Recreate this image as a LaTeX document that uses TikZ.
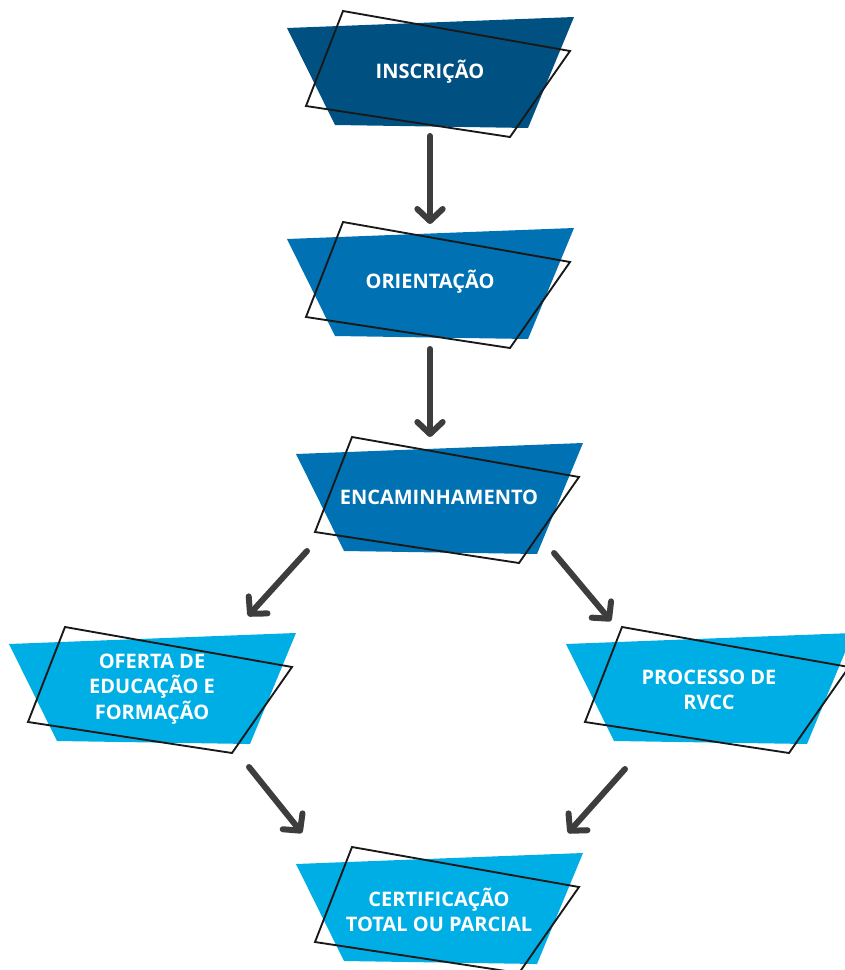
\documentclass[tikz,border=0pt]{standalone}
\usepackage{fontspec}
\setmainfont{Open Sans}
\usepackage{xcolor}
\usetikzlibrary{arrows.meta}

\definecolor{darkblue}{HTML}{005182}
\definecolor{midblue}{HTML}{0071B3}
\definecolor{lightblue}{HTML}{00AEE6}
\definecolor{arrowgray}{HTML}{3D3D3D}

\tikzset{
  frame/.style={draw=black!90, line width=1.4pt, line join=miter},
  lbl/.style={text=white, font=\bfseries\fontsize{15}{19}\selectfont, align=center, inner sep=0.75pt},
  flow/.style={draw=arrowgray, line width=4.5pt, line cap=round,
    -{Straight Barb[length=9pt, width=19pt, round]}},
  pics/boxshape/.style={code={
    \fill[#1] (-143,44) -- (144,55) -- (98,-56) -- (-95,-53) -- cycle ;
    \draw[frame] (-87,61) -- (140,21) -- (80,-65) -- (-124,-34) -- cycle ;
  }}
}

\begin{document}
\begin{tikzpicture}[x=0.75pt,y=0.75pt,yscale=-1,xscale=1]

\useasboundingbox (0,0) rectangle (845,970);

% boxes
\pic at (430,72) {boxshape=darkblue};

\pic at (430,283) {boxshape=midblue};

\pic at (439,498) {boxshape=midblue};

\pic at (152,688) {boxshape=lightblue};

\pic at (709,688) {boxshape=lightblue};

\pic at (439,908) {boxshape=lightblue};

% labels
\node [lbl] (inscricao) at (430,72) {INSCRIÇÃO};

\node [lbl] (orientacao) at (430,282) {ORIENTAÇÃO};

\node [lbl] (encaminhamento) at (439,497) {ENCAMINHAMENTO};

\node [lbl] (oferta) at (152,689) {OFERTA DE\\EDUCAÇÃO E\\FORMAÇÃO};

\node [lbl] (rvcc) at (709,690) {PROCESSO DE\\RVCC};

\node [lbl] (certificacao) at (439,910) {CERTIFICAÇÃO\\TOTAL OU PARCIAL};

% arrow ends
\coordinate (a1) at (430,136);
\coordinate (b1) at (430,224);
\coordinate (a2) at (430,349);
\coordinate (b2) at (430,437);
\coordinate (a3) at (307,551);
\coordinate (b3) at (248,616);
\coordinate (a4) at (554,553);
\coordinate (b4) at (611,621);
\coordinate (a5) at (249,767);
\coordinate (b5) at (302,833);
\coordinate (a6) at (625,769);
\coordinate (b6) at (568,833);

\draw [flow] (a1) -- (b1) ;

\draw [flow] (a2) -- (b2) ;

\draw [flow] (a3) -- (b3) ;

\draw [flow] (a4) -- (b4) ;

\draw [flow] (a5) -- (b5) ;

\draw [flow] (a6) -- (b6) ;

\end{tikzpicture}
\end{document}
